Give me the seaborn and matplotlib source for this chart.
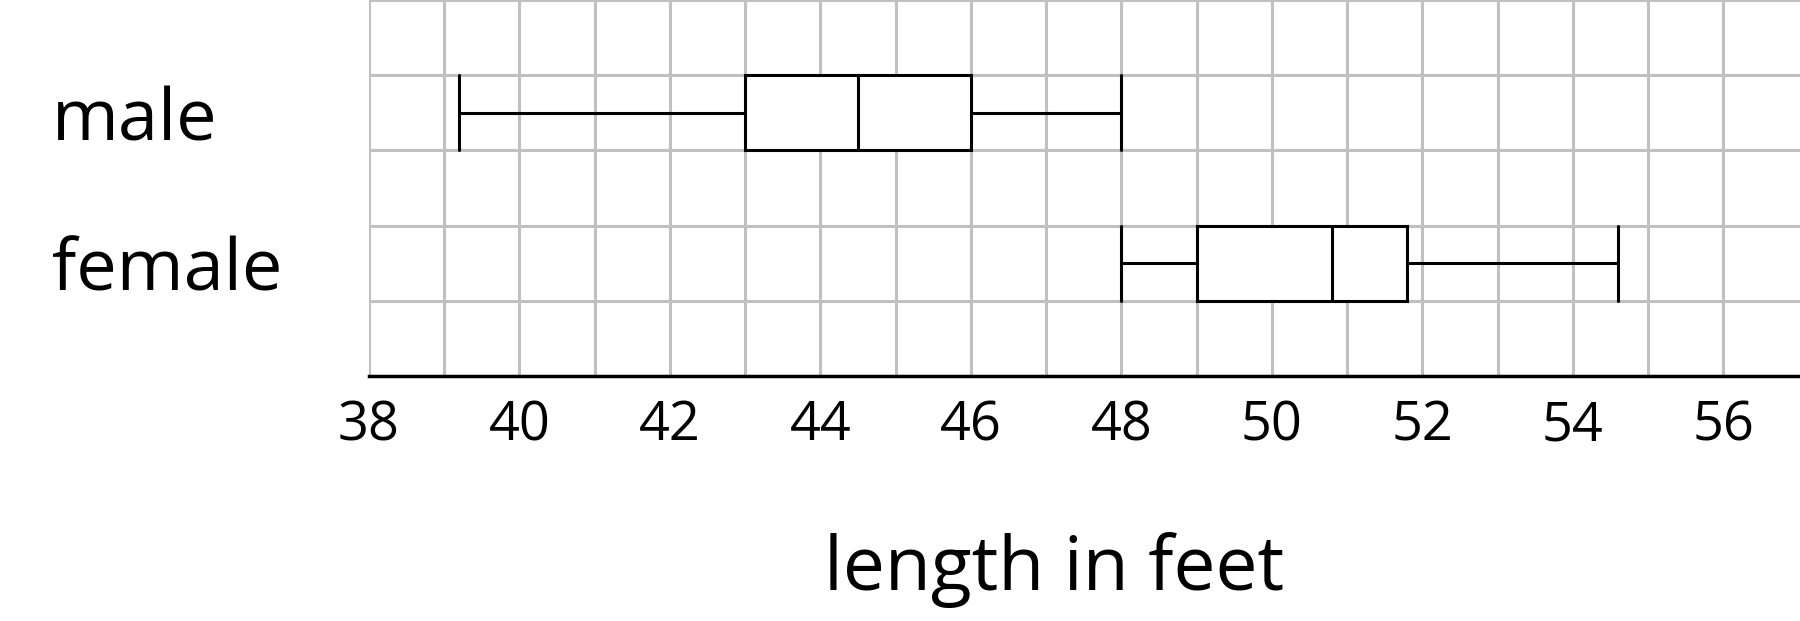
import pandas as pd
import matplotlib.pyplot as plt
import seaborn as sns

# five-number summaries (min, Q1, median, Q3, max)
categories = ['male', 'female']
male_lengths = [39.2, 43.0, 44.5, 46.0, 48.0]
female_lengths = [48.0, 49.0, 50.8, 51.8, 54.6]
x_ticks = list(range(38, 57, 2))

df = pd.DataFrame({
    'sex': ['male'] * len(male_lengths) + ['female'] * len(female_lengths),
    'length': male_lengths + female_lengths,
})

sns.set_theme(style='white')
plt.rcParams['font.family'] = ['Open Sans', 'DejaVu Sans']

fig = plt.figure(figsize=(18, 6.21), dpi=100)
ax = fig.add_axes([0.205, 0.3945, 0.795, 0.6055])

sns.boxplot(data=df, x='length', y='sex', order=categories, orient='h',
            width=0.5, whis=(0, 100), color='white', linecolor='black',
            linewidth=2.2, capwidths=0.5, ax=ax)

# grid: one line per foot, square cells
ax.set_xlim(38, 57.02)
ax.set_ylim(1.75, -0.75)
ax.set_xticks(x_ticks)
ax.set_xticks(range(39, 57, 2), minor=True)
ax.set_yticks([0, 1])
ax.set_yticklabels(categories)
ax.set_yticks([-0.75, -0.25, 0.25, 0.75, 1.25, 1.75], minor=True)
ax.grid(True, axis='x', which='both', color='#c0c0c0', linewidth=2.2)
ax.grid(True, axis='y', which='minor', color='#c0c0c0', linewidth=2.2)
ax.set_axisbelow(True)

for side in ['top', 'right', 'left']:
    ax.spines[side].set_visible(False)
ax.spines['bottom'].set_color('black')
ax.spines['bottom'].set_linewidth(2.5)

ax.tick_params(axis='x', which='both', length=0, labelsize=39, pad=16, colors='black')
ax.tick_params(axis='y', which='both', length=0, labelsize=52, pad=228, colors='black')
for lab in ax.get_yticklabels():
    lab.set_ha('left')

ax.set_ylabel('')
ax.set_xlabel('length in feet', fontsize=54, labelpad=57, color='black')
ax.xaxis.label.set_x(0.479)

fig.savefig('out.png', dpi=100)
